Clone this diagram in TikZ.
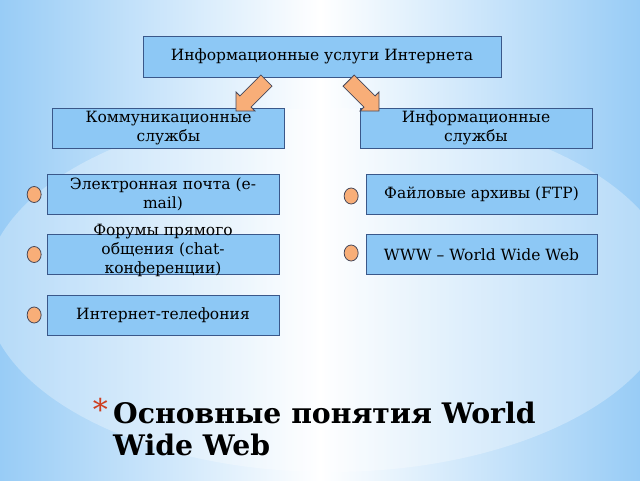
\documentclass[tikz,border=0pt]{standalone}
\usepackage{fontspec}
\setmainfont{DejaVu Serif}
\usetikzlibrary{positioning,shapes.arrows,shapes.geometric}

\definecolor{bgblue}{RGB}{152,204,246}
\definecolor{boxblue}{RGB}{141,200,245}
\definecolor{boxline}{RGB}{58,88,138}
\definecolor{dotorange}{RGB}{248,174,120}
\definecolor{dotline}{RGB}{70,72,90}
\definecolor{starred}{RGB}{205,62,32}

\tikzset{
	servicebox/.style={draw=boxline, fill=boxblue, line width=0.9pt, minimum width=232pt,
		minimum height=40pt, inner sep=0pt, align=center, font=\fontsize{15.5}{19}\selectfont},
	bulletdot/.style={ellipse, draw=dotline, fill=dotorange, line width=0.8pt,
		minimum width=14pt, minimum height=16pt, inner sep=0pt},
	blockarrow/.style={single arrow, draw=dotline, fill=dotorange, line width=0.8pt,
		minimum height=43pt, inner sep=7.5pt, single arrow head extend=5.5pt}
}

\begin{document}
\begin{tikzpicture}[x=1pt, y=-1pt]
		\useasboundingbox (0,0) rectangle (640,480);
		\shade [left color=bgblue, right color=bgblue, middle color=white] (0,0) rectangle (640,480);
		\fill [white, opacity=0.3] (330,290) ellipse [x radius=345, y radius=182];

		\node [servicebox, minimum width=358pt, minimum height=41pt] (inet) at (322,56.5) {Информационные услуги Интернета};
		\node [servicebox] (comm) at (168.5,128) {Коммуникационные\\службы};
		\node [servicebox] (info) at (476,128) {Информационные\\службы};

		\node [blockarrow, rotate=-135] (larrow) at (254,93) {};
		\node [blockarrow, rotate=-45] (rarrow) at (361,93) {};

		\node [servicebox] (email) at (163,194.5) {Электронная почта (e-\\mail)};
		\node [servicebox] (forum) at (163,254.5) {\smash{\parbox[c]{220pt}{\centering Форумы прямого\\общения (chat-\\конференции)}}};
		\node [servicebox] (phone) at (163,315) {Интернет-телефония};
		\node [servicebox, minimum width=231pt] (ftp) at (481.5,194.5) {Файловые архивы (FTP)};
		\node [servicebox, minimum width=231pt] (www) at (481.5,254.5) {WWW – World Wide Web};

		\node [bulletdot, left=5pt of email] (d1) {};
		\node [bulletdot, left=5pt of forum] (d2) {};
		\node [bulletdot, left=5pt of phone] (d3) {};
		\node [bulletdot, left=7pt of ftp, yshift=-1.5pt] (d4) {};
		\node [bulletdot, left=7pt of www, yshift=1.5pt] (d5) {};

		\node [anchor=north west, inner sep=0pt, align=left, font=\fontsize{28.3}{32}\selectfont\bfseries] (title) at (113,402) {Основные понятия World\\Wide Web};
		\node [anchor=north east, inner sep=0pt, text=starred, font=\fontsize{30}{30}\selectfont] (star) at ([xshift=-5pt, yshift=4pt]title.north west) {*};
	\end{tikzpicture}
\end{document}
